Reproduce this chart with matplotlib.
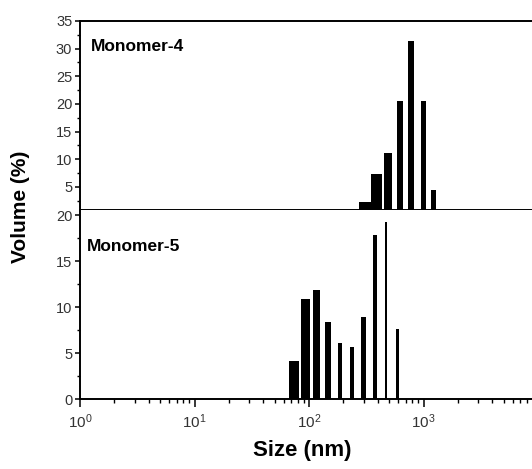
import matplotlib
matplotlib.use("Agg")
import matplotlib.pyplot as plt
from matplotlib.ticker import FixedLocator, LogLocator, MultipleLocator, NullFormatter

plt.rcParams["font.family"] = ["Liberation Sans", "DejaVu Sans"]
plt.rcParams["mathtext.fontset"] = "custom"
plt.rcParams["mathtext.rm"] = "Liberation Sans"
plt.rcParams["mathtext.it"] = "Liberation Sans:italic"
plt.rcParams["mathtext.bf"] = "Liberation Sans:bold"

# Monomer-4: bin edges (nm) and volume (%)
m4_left = [273, 346, 452, 583, 737, 945, 1170]
m4_right = [346, 431, 528, 658, 831, 1045, 1286]
m4_vol = [2.2, 7.3, 11.1, 20.5, 31.3, 20.5, 4.4]

# Monomer-5
m5_left = [67.3, 85.2, 109, 139, 178, 227, 285, 362, 461, 578]
m5_right = [82.3, 102.6, 125, 155, 195, 246, 313, 393, 483, 611]
m5_vol = [4.1, 10.9, 11.9, 8.4, 6.1, 5.6, 8.95, 17.8, 19.2, 7.6]

x_major = [1, 10, 100, 1000]

W, H = 532, 469
fig = plt.figure(figsize=(W / 100, H / 100), dpi=100)

left = 80 / W
width = 458 / W
ax_top = fig.add_axes([left, 1 - 210 / H, width, 189 / H])
ax_bot = fig.add_axes([left, 1 - 399 / H, width, 189 / H])

tick_col = "#333333"


def style(ax, ylim, show_xlabels):
    ax.set_xscale("log")
    ax.set_xlim(1, 1e4)
    ax.set_ylim(*ylim)
    for s in ["left", "bottom", "top"]:
        ax.spines[s].set_linewidth(1.4)
    ax.spines["right"].set_visible(False)
    ax.xaxis.set_major_locator(FixedLocator(x_major))
    ax.xaxis.set_minor_locator(LogLocator(base=10, subs=range(2, 10), numticks=50))
    ax.xaxis.set_minor_formatter(NullFormatter())
    ax.yaxis.set_major_locator(MultipleLocator(5))
    ax.yaxis.set_minor_locator(MultipleLocator(2.5))
    ax.tick_params(axis="x", which="major", direction="out", length=5.5, width=1.1,
                   labelsize=11, colors="black", labelcolor=tick_col, pad=4)
    ax.tick_params(axis="x", which="minor", direction="out", length=2.8, width=1.0)
    ax.tick_params(axis="y", which="major", direction="out", length=3.6, width=1.1,
                   labelsize=10.5, labelcolor=tick_col, pad=2)
    ax.tick_params(axis="y", which="minor", direction="out", length=2, width=1.0)
    if not show_xlabels:
        ax.tick_params(axis="x", which="both", labelbottom=False)


def draw(ax, lefts, rights, vols, base):
    widths = [r - l for l, r in zip(lefts, rights)]
    heights = [v - base for v in vols]
    ax.bar(lefts, heights, width=widths, bottom=base, align="edge",
           color="black", edgecolor="none", linewidth=0)


draw(ax_top, m4_left, m4_right, m4_vol, 0.8)
style(ax_top, (0.8, 35), False)
ax_top.text(0.024, 0.865, "Monomer-4", transform=ax_top.transAxes,
            fontsize=12.5, fontweight="bold", va="center", ha="left")

draw(ax_bot, m5_left, m5_right, m5_vol, 0)
style(ax_bot, (0, 20.55), True)
ax_bot.spines["top"].set_visible(False)
ax_bot.text(0.016, 0.806, "Monomer-5", transform=ax_bot.transAxes,
            fontsize=12.5, fontweight="bold", va="center", ha="left")

fig.text(302 / W, 1 - 450 / H, "Size (nm)", fontsize=16, fontweight="bold",
         va="center", ha="center")
fig.text(21 / W, 1 - 207 / H, "Volume (%)", rotation=90, fontsize=15,
         fontweight="bold", va="center", ha="center")

fig.savefig("out.png", dpi=100, facecolor="white")
